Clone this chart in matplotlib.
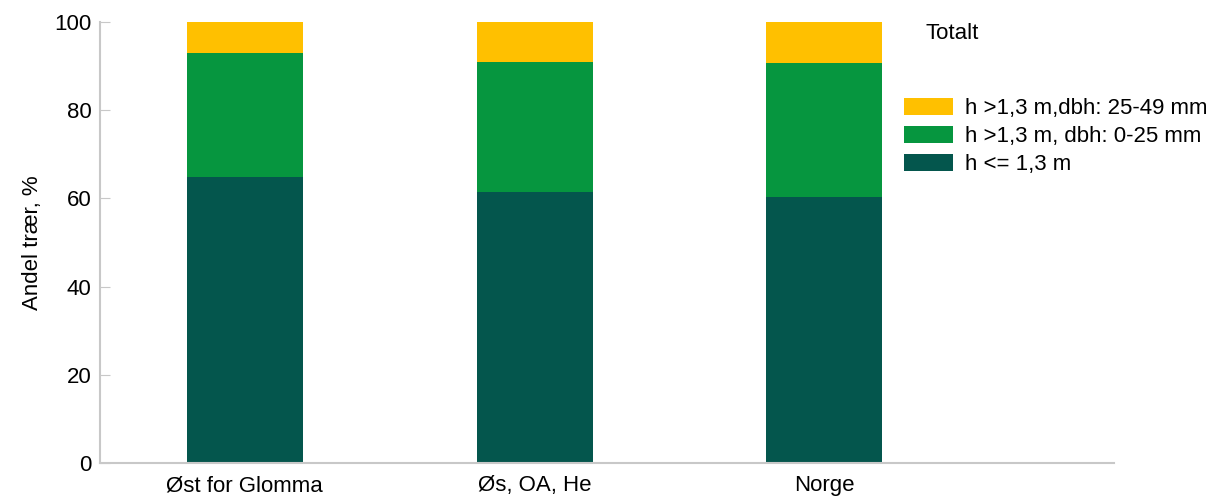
import matplotlib.pyplot as plt
import numpy as np

plt.rcParams["font.family"] = ["Liberation Sans", "DejaVu Sans"]

regions = ["Øst for Glomma", "Øs, OA, He", "Norge"]
small = [64.9, 61.5, 60.3]          # h <= 1,3 m
mid = [28.1, 29.4, 30.4]            # h >1,3 m, dbh: 0-25 mm
large = [7.0, 9.1, 9.3]             # h >1,3 m, dbh: 25-49 mm

labels = ["h <= 1,3 m", "h >1,3 m, dbh: 0-25 mm", "h >1,3 m,dbh: 25-49 mm"]
colors = ["#04564D", "#06963F", "#FFC000"]

fig = plt.figure(figsize=(12.18, 5), dpi=100)
ax = fig.add_axes([100 / 1218, 37 / 500, 1014 / 1218, 441 / 500])

x = np.arange(len(regions))
bottom = np.zeros(len(regions))
handles = []
for vals, color, label in zip([small, mid, large], colors, labels):
    h = ax.bar(x, vals, width=0.4, bottom=bottom, color=color, label=label)
    handles.append(h)
    bottom += np.array(vals)

ax.set_xlim(-0.5, 3.0)
ax.set_ylim(0, 100)
ax.set_yticks([0, 20, 40, 60, 80, 100])
ax.set_xticks(x)
ax.set_xticklabels(regions)
ax.tick_params(axis="x", length=0, labelsize=16, pad=9)
ax.tick_params(axis="y", direction="in", length=7, color="#c8c8c8", labelsize=16, pad=6)

for side in ["top", "right"]:
    ax.spines[side].set_visible(False)
for side in ["left", "bottom"]:
    ax.spines[side].set_color("#c8c8c8")
    ax.spines[side].set_linewidth(1.5)

ax.set_ylabel("Andel trær, %", fontsize=16, labelpad=8)

fig.text(925 / 1218, 1 - 33 / 500, "Totalt", fontsize=16, va="center", ha="left")
fig.legend(
    handles[::-1],
    labels[::-1],
    loc="upper left",
    bbox_to_anchor=(895 / 1218, 1 - 89 / 500),
    frameon=False,
    fontsize=16,
    handlelength=2.2,
    handleheight=0.8,
    handletextpad=0.55,
    labelspacing=0.3,
    borderaxespad=0,
)

fig.savefig("out.png", dpi=100)
